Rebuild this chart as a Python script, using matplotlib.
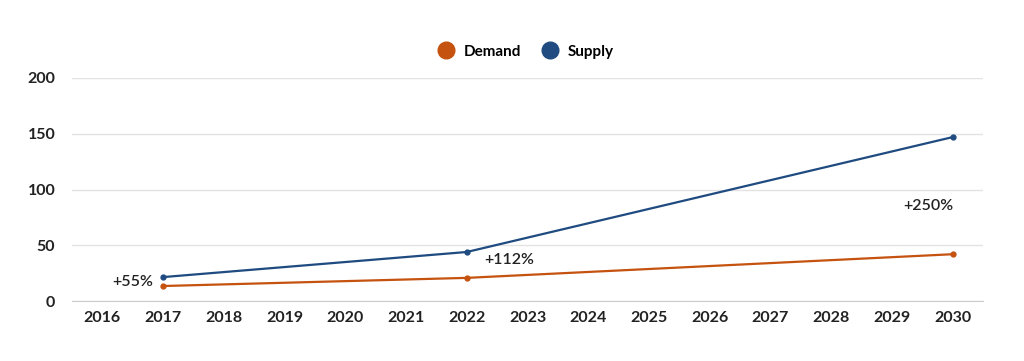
from matplotlib import pyplot as plt
from matplotlib.lines import Line2D
import numpy as np

plt.rcParams['font.family'] = ['Lato', 'DejaVu Sans']

# Data
years = [str(y) for y in range(2016, 2031)]
point_years = ['2017', '2022', '2030']
demand = [13.5, 20.8, 42]
supply = [21.5, 44, 147]
growth_labels = ['+55%', '+112%', '+250%']
label_pos = [(0.5, 17.5), (6.7, 37), (13.6, 85)]

demand_color = '#c5520f'
supply_color = '#1f4b80'

fig = plt.figure(figsize=(10.24, 3.61), dpi=100)
ax = fig.add_axes([0.0703, 0.166, 0.8897, 0.618])

xpos = [years.index(y) for y in point_years]
ax.plot(xpos, demand, color=demand_color, lw=1.6, marker='o', ms=3.5, zorder=3)
ax.plot(xpos, supply, color=supply_color, lw=1.6, marker='o', ms=3.5, zorder=3)

# Growth annotations
for (px, py), txt in zip(label_pos, growth_labels):
    ax.text(px, py, txt, fontsize=11.5, fontweight='semibold', color='#222222',
            ha='center', va='center')

ax.set_xlim(-0.5, len(years) - 0.5)
ax.set_ylim(0, 200)
ax.set_xticks(range(len(years)))
ax.set_xticklabels(years)
ax.set_yticks(np.arange(0, 201, 50))

for lbl in ax.get_xticklabels() + ax.get_yticklabels():
    lbl.set_fontweight('bold')
    lbl.set_fontsize(11.5)
    lbl.set_color('#222222')

ax.tick_params(axis='both', length=0, pad=7)
ax.tick_params(axis='y', pad=12)
ax.grid(axis='y', color='#e3e3e3', lw=1)
ax.set_axisbelow(True)
for s in ['top', 'right', 'left']:
    ax.spines[s].set_visible(False)
ax.spines['bottom'].set_color('#cccccc')

handles = [Line2D([], [], ls='', marker='o', ms=12, color=demand_color),
           Line2D([], [], ls='', marker='o', ms=12, color=supply_color)]
leg = fig.legend(handles, ['Demand', 'Supply'], loc='center', bbox_to_anchor=(0.51, 0.857),
                 ncol=2, frameon=False, handletextpad=0.15, columnspacing=0.9,
                 prop={'weight': 'bold', 'size': 11})

plt.savefig('out.png')
